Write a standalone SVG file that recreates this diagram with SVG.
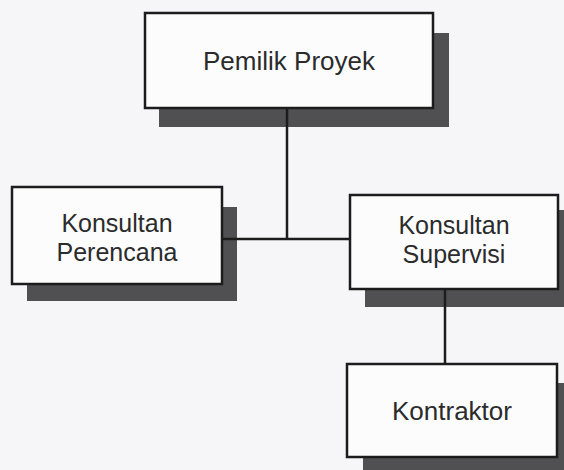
<svg xmlns="http://www.w3.org/2000/svg" width="564" height="470" viewBox="0 0 564 470">
  <style>
    .shadow { fill: #505052; }
    .box { fill: #fcfcfd; stroke: #1c1c1c; stroke-width: 2.5; }
    .label { font-family: "Liberation Sans", Arial, sans-serif; font-size: 26px; fill: #2b2b2b; text-anchor: middle; }
    .label2 { font-family: "Liberation Sans", Arial, sans-serif; font-size: 25px; fill: #2b2b2b; text-anchor: middle; }
    .link { stroke: #1c1c1c; stroke-width: 2.5; fill: none; }
  </style>
  <rect width="564" height="470" fill="#f6f6f8"/>

  <g id="pemilik-proyek">
    <rect class="shadow" x="159" y="33" width="290" height="94"/>
    <rect class="box" x="145" y="13" width="288" height="95"/>
    <text class="label" x="289" y="70">Pemilik Proyek</text>
  </g>

  <g id="konsultan-perencana">
    <rect class="shadow" x="27" y="207" width="210" height="94"/>
    <rect class="box" x="12" y="187" width="210" height="97"/>
    <text class="label2" x="117" y="232">Konsultan</text>
    <text class="label2" x="117" y="261">Perencana</text>
  </g>

  <g id="konsultan-supervisi">
    <rect class="shadow" x="365" y="210" width="210" height="97"/>
    <rect class="box" x="350" y="195" width="208" height="94"/>
    <text class="label2" x="454" y="234">Konsultan</text>
    <text class="label2" x="454" y="263">Supervisi</text>
  </g>

  <g id="kontraktor">
    <rect class="shadow" x="363" y="383" width="212" height="95"/>
    <rect class="box" x="347" y="364" width="210" height="93"/>
    <text class="label" x="452" y="420">Kontraktor</text>
  </g>

  <g id="connectors">
    <line class="link" x1="287" y1="108" x2="287" y2="239"/>
    <line class="link" x1="222" y1="239" x2="350" y2="239"/>
    <line class="link" x1="445" y1="289" x2="445" y2="364"/>
  </g>
</svg>
